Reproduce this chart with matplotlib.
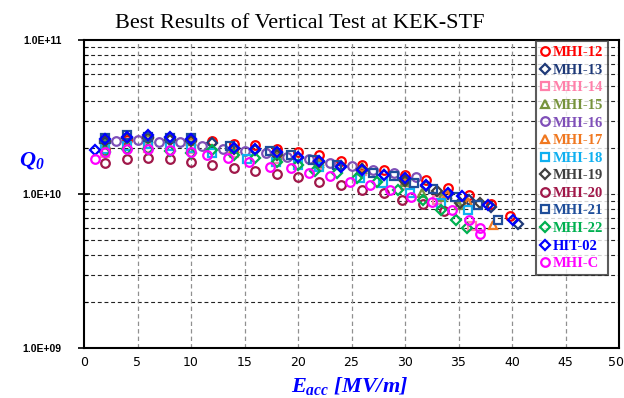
import matplotlib
matplotlib.use("Agg")
import matplotlib.pyplot as plt
from matplotlib.ticker import FixedLocator, NullFormatter, FixedFormatter
import matplotlib.transforms as mtransforms
import numpy as np

plt.rcParams['mathtext.fontset'] = 'custom'
plt.rcParams['mathtext.rm'] = 'Liberation Serif:bold:italic'
plt.rcParams['mathtext.it'] = 'Liberation Serif:bold:italic'
plt.rcParams['mathtext.bf'] = 'Liberation Serif:bold:italic'

# ---------------- data (Q in units of 1e10) ----------------
names = ["MHI-12", "MHI-13", "MHI-14", "MHI-15", "MHI-16", "MHI-17", "MHI-18",
         "MHI-19", "MHI-20", "MHI-21", "MHI-22", "HIT-02", "MHI-C"]

e_mhi12 = [2, 4, 6, 8, 10, 12, 14, 16, 18, 20, 22, 24, 26, 28, 30, 32, 34, 36, 38, 39.8]
q_mhi12 = [1.95, 2.25, 2.35, 2.3, 2.25, 2.22, 2.12, 2.08, 1.96, 1.88, 1.8, 1.65, 1.55, 1.43, 1.33, 1.23, 1.1, 0.98, 0.86, 0.72]

e_mhi13 = [2, 4, 6, 8, 10, 12, 14, 16, 18, 20, 22, 24, 26, 28, 30, 32, 34, 36, 38, 40.6]
q_mhi13 = [2.15, 2.3, 2.35, 2.3, 2.25, 2.15, 2.0, 1.92, 1.85, 1.72, 1.62, 1.52, 1.42, 1.33, 1.24, 1.12, 1.0, 0.92, 0.82, 0.64]

e_mhi14 = [2, 6, 10, 14, 18, 22, 26, 30, 33, 36.3]
q_mhi14 = [1.85, 2.0, 1.95, 1.85, 1.7, 1.55, 1.4, 1.15, 0.92, 0.62]

e_mhi15 = [2, 6, 10, 14, 18, 22, 26, 30, 31.6, 33.5, 35]
q_mhi15 = [2.1, 2.3, 2.2, 2.0, 1.8, 1.6, 1.45, 1.2, 1.02, 0.95, 0.85]

e_mhi16 = [3, 5, 7, 9, 11, 13, 15, 17, 19, 21, 23, 25, 27, 29, 31]
q_mhi16 = [2.2, 2.25, 2.17, 2.17, 2.05, 1.97, 1.9, 1.85, 1.75, 1.68, 1.6, 1.52, 1.44, 1.36, 1.28]

e_mhi17 = [6, 10, 14, 18, 22, 26, 30, 33.9, 35.9, 38.2]
q_mhi17 = [2.4, 2.25, 2.0, 1.85, 1.65, 1.5, 1.3, 1.0, 0.89, 0.63]

e_mhi18 = [2, 4, 6, 8, 10, 12, 15.2, 17.9, 20, 22, 25.8, 27.9, 30.5, 33.4, 35.9]
q_mhi18 = [1.95, 2.05, 2.1, 2.05, 2.0, 1.85, 1.7, 1.62, 1.55, 1.5, 1.27, 1.18, 1.02, 0.88, 0.79]

e_mhi19 = [2, 4, 6, 8, 10, 14, 18, 22, 26, 30, 33, 35.1, 37]
q_mhi19 = [2.2, 2.3, 2.3, 2.25, 2.2, 1.95, 1.8, 1.62, 1.45, 1.22, 1.05, 0.87, 0.88]

e_mhi20 = [2, 4, 6, 8, 10, 12, 14, 16, 18, 20, 22, 24, 26, 28, 29.7, 31.7, 33.6]
q_mhi20 = [1.6, 1.7, 1.72, 1.68, 1.62, 1.55, 1.47, 1.4, 1.35, 1.28, 1.2, 1.14, 1.06, 1.01, 0.91, 0.86, 0.77]

e_mhi21 = [2, 4, 6, 8, 10, 13.6, 17.4, 19.3, 21.4, 23.6, 27, 29, 30.8, 32.6, 34.7, 36.8, 38.7]
q_mhi21 = [2.3, 2.4, 2.35, 2.32, 2.3, 2.05, 1.9, 1.8, 1.67, 1.55, 1.37, 1.3, 1.18, 1.07, 0.96, 0.85, 0.68]

e_mhi22 = [2, 4, 6, 8, 10, 12, 14, 16, 18, 20, 21.6, 23.6, 25.5, 27.4, 29.3, 31.7, 33.4, 34.8, 35.8]
q_mhi22 = [1.88, 1.95, 1.95, 1.9, 1.85, 1.93, 1.8, 1.72, 1.62, 1.55, 1.4, 1.37, 1.27, 1.2, 1.06, 0.91, 0.79, 0.68, 0.6]

e_hit02 = [1, 2, 4, 6, 8, 10, 14, 16, 18, 20, 22, 24, 26, 28, 30, 32, 34, 35.3, 37.8, 40.1]
q_hit02 = [1.93, 2.27, 2.35, 2.4, 2.35, 2.28, 2.0, 1.95, 1.88, 1.74, 1.64, 1.5, 1.43, 1.33, 1.27, 1.14, 1.02, 0.97, 0.85, 0.68]

e_mhic = [1, 2, 4, 6, 8, 10, 11.5, 13.5, 15.4, 17.4, 19.3, 21, 23, 24.9, 26.7, 28.6, 30.6, 32.5, 34.4, 36.0, 37.0, 37.0]
q_mhic = [1.68, 1.88, 1.95, 1.97, 1.93, 1.88, 1.8, 1.72, 1.62, 1.5, 1.47, 1.37, 1.3, 1.2, 1.14, 1.06, 0.96, 0.89, 0.79, 0.68, 0.6, 0.55]

x_ticks = [0, 5, 10, 15, 20, 25, 30, 35, 40, 45, 50]
y_major = [1e9, 1e10, 1e11]
y_labels = ["1.0E+09", "1.0E+10", "1.0E+11"]

series = [
    (e_mhi12, q_mhi12, 'o', '#FF0000'),
    (e_mhi13, q_mhi13, 'D', '#1F3A78'),
    (e_mhi14, q_mhi14, 's', '#FF80AA'),
    (e_mhi15, q_mhi15, '^', '#77933C'),
    (e_mhi16, q_mhi16, 'o', '#7F4FB8'),
    (e_mhi17, q_mhi17, '^', '#F07820'),
    (e_mhi18, q_mhi18, 's', '#10B0F0'),
    (e_mhi19, q_mhi19, 'D', '#404040'),
    (e_mhi20, q_mhi20, 'o', '#A0184A'),
    (e_mhi21, q_mhi21, 's', '#1F4E9A'),
    (e_mhi22, q_mhi22, 'D', '#00B050'),
    (e_hit02, q_hit02, 'D', '#0000FF'),
    (e_mhic, q_mhic, 'o', '#FF00FF'),
]

fig = plt.figure(figsize=(6.24, 3.98), dpi=100)
ax = fig.add_axes([84/624, 1-348/398, (619-84)/624, (348-40)/398])

for name, (e, q, m, c) in zip(names, series):
    ms = 5.2 if m == 'D' else 6.2
    ax.plot(e, np.array(q)*1e10, linestyle='none', marker=m, markersize=ms,
            markerfacecolor='none', markeredgecolor=c, markeredgewidth=1.6, label=name)

ax.set_yscale('log')
ax.set_xlim(0, 50)
ax.set_ylim(1e9, 1e11)

# grid
hgrid = [k*1e9 for k in range(2, 10)] + [1e10] + [k*1e10 for k in range(2, 10)]
for yv in hgrid:
    ax.axhline(yv, color='#222222', lw=0.8, ls=(0, (3.5, 2.5)), zorder=0)
for xv in x_ticks[1:-1]:
    ax.axvline(xv, color='#909090', lw=0.9, ls=(0, (3.5, 2.5)), zorder=0)

ax.xaxis.set_major_locator(FixedLocator(x_ticks))
xlabels = [str(v) for v in x_ticks]
ax.set_xticklabels(xlabels[:-1] + [''], fontsize=9, family='DejaVu Sans')
# last label nudged slightly left so it stays inside the figure
off = mtransforms.ScaledTranslation(-3/100, -6/72, fig.dpi_scale_trans)
ax.text(x_ticks[-1], 0, xlabels[-1], transform=ax.get_xaxis_transform() + off,
        ha='center', va='top', fontsize=9, family='DejaVu Sans')

ax.yaxis.set_major_locator(FixedLocator(y_major))
ax.yaxis.set_major_formatter(FixedFormatter(y_labels))
ax.yaxis.set_minor_formatter(NullFormatter())
for lab in ax.get_yticklabels():
    lab.set_fontsize(7.5)
    lab.set_fontweight('bold')
    lab.set_family('Liberation Sans')
ax.tick_params(axis='y', which='major', direction='inout', length=8, width=1.2, pad=12)
ax.tick_params(axis='y', which='minor', direction='in', length=3, width=0.8)
ax.tick_params(axis='x', which='major', direction='in', length=0, pad=6)

for sp in ax.spines.values():
    sp.set_linewidth(1.5)
    sp.set_color('black')

leg = ax.legend(loc='upper right', bbox_to_anchor=(0.979, 0.997), frameon=True,
                fancybox=False, edgecolor='#333333', borderpad=0.35,
                labelspacing=0.3, handlelength=0.6, handletextpad=0.2,
                borderaxespad=0.0,
                prop={'family': 'Liberation Serif', 'weight': 'bold', 'size': 10.5})
leg.get_frame().set_linewidth(1.5)
for txt, (e, q, m, c) in zip(leg.get_texts(), series):
    txt.set_color(c)

fig.text(300/624, 1-28/398, "Best Results of Vertical Test at KEK-STF",
         ha='center', va='baseline', fontsize=16, family='Liberation Serif')
fig.text(350/624, 1-392/398, r'$E_{acc}\ [MV/m]$', ha='center', va='baseline',
         fontsize=16, color='#0000FF')
fig.text(32/624, 1-166/398, r'$Q_0$', ha='center', va='baseline',
         fontsize=16, color='#0000FF')

fig.savefig('out.png', dpi=100)
